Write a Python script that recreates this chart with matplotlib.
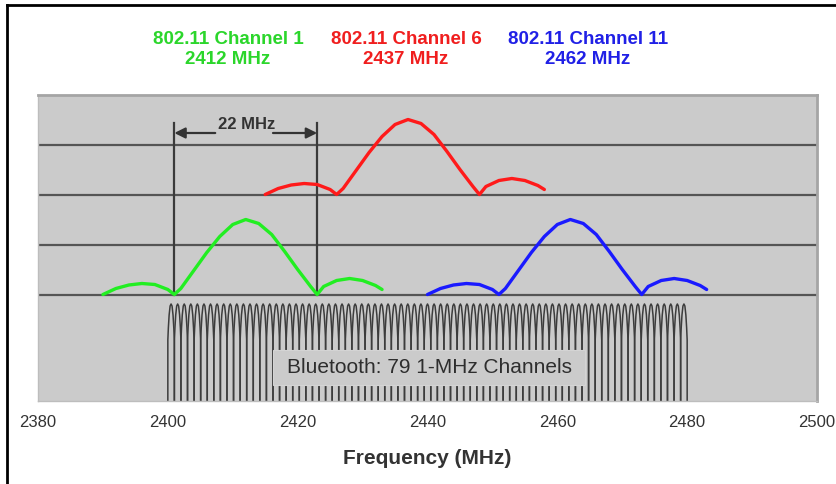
import numpy as np
import matplotlib
matplotlib.use('Agg')
import matplotlib.pyplot as plt
from matplotlib.lines import Line2D
from matplotlib.patches import Rectangle

plt.rcParams['font.family'] = ['Liberation Sans', 'DejaVu Sans']

# 802.11 channels
wifi_names = ['802.11 Channel 1', '802.11 Channel 6', '802.11 Channel 11']
wifi_centers = [2412, 2437, 2462]
wifi_baselines = [0, 2, 0]          # grid row the spectrum sits on
wifi_colors = ['#22ee22', '#ff1a1a', '#1a1aff']
wifi_text_colors = ['#2bd62b', '#f01e1e', '#2020e6']

# spectrum shape (offset from center in MHz, height in grid rows)
shape_offsets = [-22, -20, -18, -16, -14, -12, -11, -10, -8, -6, -4, -2, 0,
                 2, 4, 6, 8, 10, 11, 12, 14, 16, 18, 20, 21]
shape_levels = [0.0, 0.12, 0.19, 0.22, 0.20, 0.10, 0.0, 0.12, 0.48, 0.84, 1.16, 1.40, 1.50,
                1.42, 1.20, 0.86, 0.50, 0.16, 0.0, 0.16, 0.28, 0.32, 0.28, 0.18, 0.10]
channel_width = 22

# Bluetooth: 79 1-MHz channels filling 2400-2480
bt_channels = np.linspace(2400.5, 2479.5, 79)
bt_lobe_offsets = [-0.5, -0.5, -0.42, -0.3, -0.15, 0, 0.15, 0.3, 0.42, 0.5, 0.5]
bt_lobe_levels = [-2.2, -0.91, -0.67, -0.41, -0.23, -0.19, -0.23, -0.41, -0.67, -0.91, -2.2]

xticks = [2380, 2400, 2420, 2440, 2460, 2480, 2500]

bg = '#cbcbcb'
fig = plt.figure(figsize=(8.37, 4.84), dpi=100)
ax = fig.add_axes([38 / 837, (484 - 401) / 484, (817 - 38) / 837, (401 - 95) / 484])
ax.set_facecolor(bg)
ax.set_xlim(2380, 2500)
ax.set_ylim(-2.13, 3.99)

# horizontal rows
for row in [0, 1, 2, 3]:
    ax.axhline(row, color='#555555', lw=1.6, zorder=1)

# bluetooth lobes
for c in bt_channels:
    ax.plot(c + np.array(bt_lobe_offsets), bt_lobe_levels, color='#3c3c3c', lw=1.1, zorder=2)

# label box over the bluetooth lines
ax.add_patch(Rectangle((2416.2, -1.81), 48.1, 0.70, facecolor=bg, edgecolor='#d4d4d4',
                       lw=0.8, zorder=3))
ax.text(2440.3, -1.46, 'Bluetooth: 79 1-MHz Channels', ha='center', va='center',
        fontsize=15, color='#2e2e2e', zorder=4)

# wifi spectra
for c, base, col in zip(wifi_centers, wifi_baselines, wifi_colors):
    ax.plot(c + np.array(shape_offsets), base + np.array(shape_levels), color=col,
            lw=2.4, zorder=5, solid_capstyle='round')

# 22 MHz marker on channel 1
lo = wifi_centers[0] - channel_width / 2
hi = wifi_centers[0] + channel_width / 2
for xv in [lo, hi]:
    ax.plot([xv, xv], [0, 3.43], color='#3a3a3a', lw=1.6, zorder=4)
arrow = dict(arrowstyle='-|>', color='#333333', lw=1.6, mutation_scale=16, shrinkA=0, shrinkB=0)
ax.annotate('', xy=(lo, 3.23), xytext=(lo + 6.3, 3.23), arrowprops=arrow)
ax.annotate('', xy=(hi, 3.23), xytext=(hi - 6.8, 3.23), arrowprops=arrow)
ax.text(wifi_centers[0] + 0.2, 3.40, '22 MHz', ha='center', va='center', fontsize=12,
        fontweight='bold', color='#333333')

ax.set_xticks(xticks)
ax.set_yticks([])
ax.tick_params(axis='x', length=0, pad=10, labelsize=12, labelcolor='#333333')
ax.set_xlabel('Frequency (MHz)', fontsize=15, fontweight='bold', color='#333333', labelpad=14)
for side in ['top', 'right']:
    ax.spines[side].set_color('#a5a5a5')
    ax.spines[side].set_linewidth(2)
for side in ['left', 'bottom']:
    ax.spines[side].set_color('#bdbdbd')
    ax.spines[side].set_linewidth(1)

# header labels
header_x = [228, 406, 588]
for name, c, xp, col in zip(wifi_names, wifi_centers, header_x, wifi_text_colors):
    fig.text(xp / 837, 1 - 40 / 484, name, ha='center', va='center', fontsize=13.5,
             fontweight='bold', color=col)
    fig.text(xp / 837, 1 - 60 / 484, f'{c} MHz', ha='center', va='center', fontsize=13.5,
             fontweight='bold', color=col)

# outer frame (top and left edges visible)
fig.add_artist(Line2D([7 / 837, 7 / 837], [0, 1 - 5 / 484], color='black', lw=2))
fig.add_artist(Line2D([7 / 837, 1], [1 - 5 / 484, 1 - 5 / 484], color='black', lw=2))

fig.savefig('out.png', dpi=100)
